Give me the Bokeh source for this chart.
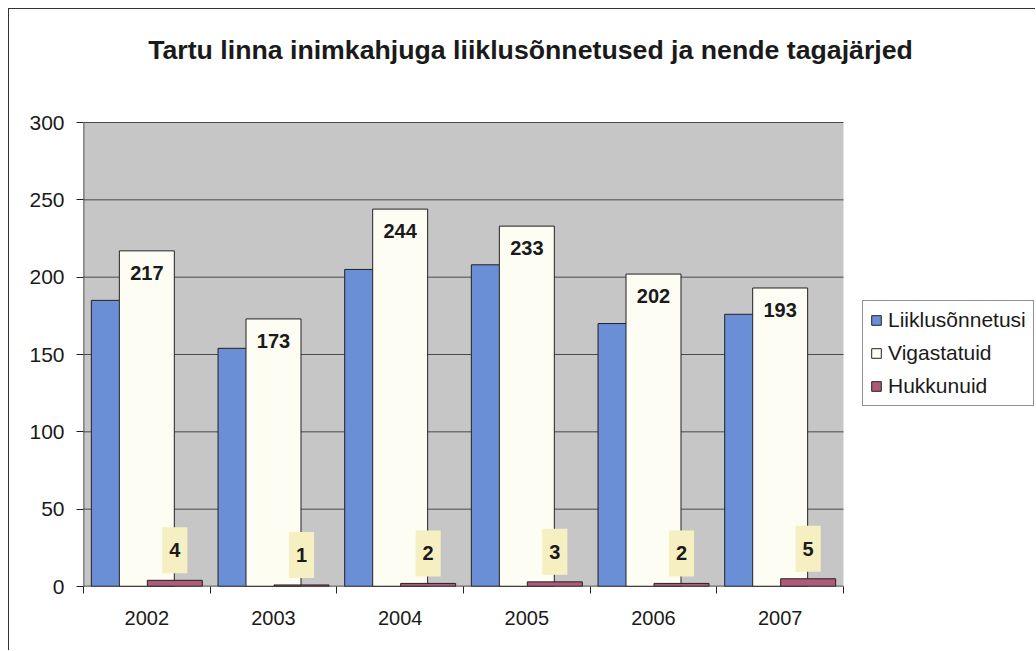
import numpy as np
from bokeh.plotting import figure
from bokeh.models import ColumnDataSource, LabelSet, Label, Legend, LegendItem, FixedTicker, Range1d
from bokeh.core.properties import value
from bokeh.embed import file_html
from bokeh.resources import INLINE

years = ["2002", "2003", "2004", "2005", "2006", "2007"]
accidents = [185, 154, 205, 208, 170, 176]   # Liiklusõnnetusi
injured = [217, 173, 244, 233, 202, 193]     # Vigastatuid
killed = [4, 1, 2, 3, 2, 5]                  # Hukkunuid
series_names = ["Liiklusõnnetusi", "Vigastatuid", "Hukkunuid"]
y_ticks = [0, 50, 100, 150, 200, 250, 300]
title_text = "Tartu linna inimkahjuga liiklusõnnetused ja nende tagajärjed"

FONT = "Liberation Sans"
n = len(years)
idx = np.arange(n)
offset = 0.221
bw = 0.434
y_max = y_ticks[-1]

# ---- layout geometry in page pixels ----
PAGE_W, PAGE_H = 1036, 651
OX, OY = 9, 9                 # canvas origin (after 8px margin + 1px chart border)
AREA_L, AREA_R = 83, 843      # grey plot area, horizontal
AREA_T, AREA_B = 122, 586     # grey plot area, vertical
TITLE_X, TITLE_Y = 530, 49    # title centre

W, H = PAGE_W - OX, PAGE_H - OY
left_b = AREA_L - OX
bottom_b = PAGE_H - AREA_B
px_x = (AREA_R - AREA_L) / n
px_y = (AREA_B - AREA_T) / y_max
x_start = -0.5
x_end = x_start + (PAGE_W - AREA_L) / px_x
y_end = (AREA_B - OY) / px_y

p = figure(width=W, height=H, output_backend="svg", toolbar_location=None,
           x_range=Range1d(x_start, x_end), y_range=Range1d(0, y_end),
           min_border_left=left_b, min_border_right=0,
           min_border_top=0, min_border_bottom=bottom_b)
p.styles = {"margin-left": "8px", "margin-top": "8px",
            "border-left": "1px solid #333", "border-top": "1px solid #333"}

p.background_fill_color = "white"
p.border_fill_color = "white"
p.outline_line_color = None

# title (drawn as text inside the extended frame)
p.text(x=[x_start + (TITLE_X - AREA_L) / px_x], y=[(AREA_B - TITLE_Y) / px_y], text=[title_text],
       text_align="center", text_baseline="middle", text_font=value(FONT),
       text_font_size="26.7px", text_font_style="bold", text_color="#1a1a1a")

# grey plot area and grid lines
p.quad(left=[x_start], right=[x_start + n], bottom=[0], top=[y_max],
       fill_color="#c6c6c6", line_color=None)
p.segment(x0=[x_start] * (len(y_ticks) - 1), x1=[x_start + n] * (len(y_ticks) - 1),
          y0=y_ticks[1:], y1=y_ticks[1:], line_color="#4a4a4a", line_width=1)

src = ColumnDataSource(dict(
    xb=idx - offset, xw=idx, xr=idx + offset,
    acc=accidents, inj=injured, kil=killed,
    inj_s=[str(v) for v in injured],
))

rb = p.vbar(x="xb", top="acc", width=bw, source=src, fill_color="#6a8fd6", line_color="#222222", line_width=1)
rw = p.vbar(x="xw", top="inj", width=bw, source=src, fill_color="#fdfdf3", line_color="#222222", line_width=1)
rr = p.vbar(x="xr", top="kil", width=bw, source=src, fill_color="#ad5b78", line_color="#222222", line_width=1)

# axis lines limited to the plot area
p.segment(x0=[x_start], x1=[x_start + n], y0=[0], y1=[0], line_color="#222222", line_width=1.5)
p.segment(x0=[x_start], x1=[x_start], y0=[0], y1=[y_max], line_color="#222222", line_width=1.5)

p.xgrid.grid_line_color = None
p.ygrid.grid_line_color = None

# y axis
p.yaxis.ticker = FixedTicker(ticks=y_ticks)
p.yaxis.major_tick_out = 7
p.yaxis.major_tick_in = 0
p.yaxis.minor_tick_line_color = None
p.yaxis.axis_line_color = None
p.yaxis.major_tick_line_color = "#222222"
p.yaxis.major_label_text_font = FONT
p.yaxis.major_label_text_font_size = "21px"
p.yaxis.major_label_text_color = "#1a1a1a"
p.yaxis.major_label_standoff = 12

# x axis: labels at centers, tick marks at category boundaries
p.xaxis.ticker = FixedTicker(ticks=list(idx), minor_ticks=[i - 0.5 for i in range(n + 1)])
p.xaxis.major_label_overrides = {int(i): y for i, y in zip(idx, years)}
p.xaxis.major_tick_line_color = None
p.xaxis.major_tick_out = 0
p.xaxis.major_tick_in = 0
p.xaxis.minor_tick_out = 7
p.xaxis.minor_tick_in = 0
p.xaxis.minor_tick_line_color = "#222222"
p.xaxis.axis_line_color = None
p.xaxis.major_label_text_font = FONT
p.xaxis.major_label_text_font_size = "20px"
p.xaxis.major_label_text_color = "#1a1a1a"
p.xaxis.major_label_standoff = 17

# data labels
lw = LabelSet(x="xw", y="inj", text="inj_s", source=src, y_offset=-22,
              text_align="center", text_baseline="middle",
              text_font=value(FONT), text_font_size=value("20px"),
              text_font_style=value("bold"), text_color="#1a1a1a")
p.add_layout(lw)
for xi, v in zip(idx + offset, killed):
    p.add_layout(Label(x=float(xi), y=v, text=str(v), y_offset=30,
                       text_align="center", text_baseline="middle",
                       text_font=FONT, text_font_size="20px", text_font_style="bold",
                       text_color="#1a1a1a", background_fill_color="#f6efc2",
                       padding=(7, 16)))

legend = Legend(items=[LegendItem(label=series_names[0], renderers=[rb]),
                       LegendItem(label=series_names[1], renderers=[rw]),
                       LegendItem(label=series_names[2], renderers=[rr])],
                location=(862 - AREA_L, AREA_B - 406))
legend.label_text_font = FONT
legend.label_text_font_size = "21px"
legend.label_text_color = "#1a1a1a"
legend.glyph_width = 12
legend.glyph_height = 12
legend.label_standoff = 6
legend.spacing = 9
legend.padding = 7
legend.border_line_color = "#222222"
legend.border_line_width = 1
legend.background_fill_color = "white"
legend.background_fill_alpha = 1
legend.margin = 0
p.add_layout(legend, "center")

open("out.html", "w").write(file_html(p, INLINE))
